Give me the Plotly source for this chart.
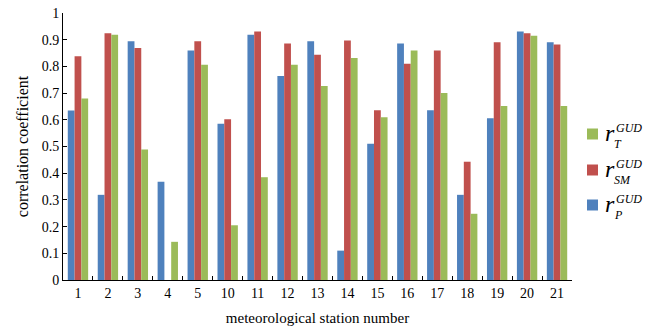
import plotly.graph_objects as go

stations = ["1", "2", "3", "4", "5", "10", "11", "12", "13", "14", "15", "16", "17", "18", "19", "20", "21"]
r_P = [0.635, 0.319, 0.894, 0.368, 0.86, 0.585, 0.919, 0.764, 0.894, 0.11, 0.51, 0.886, 0.636, 0.319, 0.606, 0.931, 0.89]
r_SM = [0.838, 0.924, 0.869, 0.0, 0.894, 0.602, 0.931, 0.886, 0.844, 0.897, 0.636, 0.81, 0.86, 0.443, 0.89, 0.924, 0.882]
r_T = [0.68, 0.919, 0.489, 0.143, 0.806, 0.205, 0.385, 0.806, 0.727, 0.831, 0.61, 0.86, 0.70, 0.248, 0.652, 0.915, 0.652]
y_ticks = [0, 0.1, 0.2, 0.3, 0.4, 0.5, 0.6, 0.7, 0.8, 0.9, 1]
y_tick_text = ["0", "0.1", "0.2", "0.3", "0.4", "0.5", "0.6", "0.7", "0.8", "0.9", "1"]

# legend entries (top to bottom): colour, subscript label
legend_colors = ["#9BBB59", "#C0504D", "#4F81BD"]
legend_subs = ["T", "SM", "P"]

FONT = "Liberation Serif, Times New Roman, serif"

W, H = 655, 330
ML, MR, MT, MB = 63, 83, 13, 50
PW, PH = W - ML - MR, H - MT - MB


def px(xpix):
    return (xpix - ML) / PW


def py(ypix):
    return (H - MB - ypix) / PH


fig = go.Figure()
fig.add_trace(go.Bar(x=stations, y=r_P, name="r_P^GUD",
                     marker=dict(color="#4F81BD", line=dict(width=0))))
fig.add_trace(go.Bar(x=stations, y=r_SM, name="r_SM^GUD",
                     marker=dict(color="#C0504D", line=dict(width=0))))
fig.add_trace(go.Bar(x=stations, y=r_T, name="r_T^GUD",
                     marker=dict(color="#9BBB59", line=dict(width=0))))

# custom legend with stacked sub/superscripts
row_centers = [134, 170, 205]
for color, sub, yc in zip(legend_colors, legend_subs, row_centers):
    fig.add_shape(type="rect", xref="paper", yref="paper",
                  x0=px(587), x1=px(598), y0=py(yc + 5.5), y1=py(yc - 5.5),
                  fillcolor=color, line=dict(width=0))
    fig.add_annotation(xref="paper", yref="paper", x=px(604), y=py(yc - 1),
                       xanchor="left", yanchor="middle", showarrow=False,
                       text="<i>r</i>", font=dict(size=24, family=FONT), borderpad=0)
    fig.add_annotation(xref="paper", yref="paper", x=px(615), y=py(yc - 6),
                       xanchor="left", yanchor="middle", showarrow=False,
                       text="<i>GUD</i>", font=dict(size=12, family=FONT), borderpad=0)
    fig.add_annotation(xref="paper", yref="paper", x=px(613), y=py(yc + 10),
                       xanchor="left", yanchor="middle", showarrow=False,
                       text="<i>" + sub + "</i>", font=dict(size=12, family=FONT), borderpad=0)

fig.update_layout(
    width=W, height=H,
    margin=dict(l=ML, r=MR, t=MT, b=MB, autoexpand=False),
    paper_bgcolor="white", plot_bgcolor="white",
    barmode="group", bargap=0.32, bargroupgap=0,
    font=dict(family=FONT, size=14, color="black"),
    showlegend=False,
    xaxis=dict(type="category", showline=True, linecolor="black", linewidth=1,
               ticks="inside", ticklen=4, tickcolor="black", tickson="boundaries",
               showgrid=False, range=[-0.5, 16.5], automargin=False,
               title=dict(text="meteorological station number", font=dict(size=15), standoff=12),
               tickfont=dict(size=14)),
    yaxis=dict(range=[0, 1], tickvals=y_ticks, ticktext=y_tick_text,
               showline=True, linecolor="black", linewidth=1, automargin=False,
               ticks="inside", ticklen=4, tickcolor="black", showgrid=False, zeroline=False,
               title=dict(text="correlation coefficient", font=dict(size=16), standoff=9),
               tickfont=dict(size=14)),
)

fig.write_html("out.html")
